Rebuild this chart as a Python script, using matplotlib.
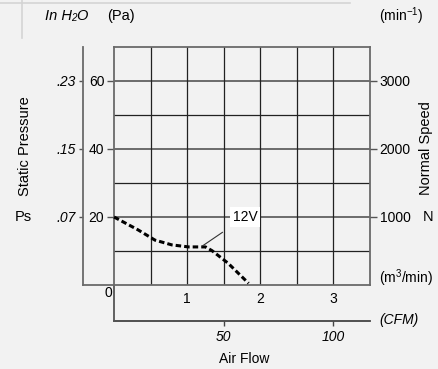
import matplotlib
matplotlib.use("Agg")
import matplotlib.pyplot as plt
from matplotlib.lines import Line2D

plt.rcParams['font.family'] = ['Liberation Sans', 'DejaVu Sans']
plt.rcParams['mathtext.fontset'] = 'custom'
plt.rcParams['mathtext.rm'] = 'Liberation Sans'
plt.rcParams['mathtext.it'] = 'Liberation Sans:italic'

# 12V curve: air flow (m3/min) vs static pressure (Pa)
flow = [0.0, 0.33, 0.56, 0.79, 1.02, 1.25, 1.34, 1.56, 1.84]
pressure = [20.0, 16.2, 13.2, 11.8, 11.2, 11.2, 10.1, 6.4, 0.5]

pa_ticks = [20, 40, 60]
inh2o_labels = ['.07', '.15', '.23']
rpm_ticks = [1000, 2000, 3000]
flow_ticks = [1, 2, 3]
cfm_ticks = [50, 100]
cfm_per_m3 = 100 / 3.0   # as drawn on the chart

W, H = 438, 369
fig = plt.figure(figsize=(W / 100, H / 100), dpi=100)
fig.patch.set_facecolor('#f2f2f2')

def fx(x):
    return x / W

def fy(y):
    return 1 - y / H

ax = fig.add_axes([fx(114), fy(285), (370 - 114) / W, (285 - 47) / H])
ax.set_facecolor('#f2f2f2')
ax.set_xlim(0, 3.5)
ax.set_ylim(0, 70)

# grid
for v in range(10, 70, 10):
    if v in pa_ticks:
        ax.axhline(v, color='#555555', lw=1.2, zorder=1)
    else:
        ax.axhline(v, color='#222222', lw=0.9, zorder=1)
for i in range(1, 7):
    ax.axvline(i * 0.5, color='#222222', lw=0.9, zorder=1)
for s in ax.spines.values():
    s.set_color('#6a6a6a')
    s.set_linewidth(1.3)

ax.set_yticks(pa_ticks)
ax.set_yticklabels([str(v) for v in pa_ticks])
ax.tick_params(axis='y', direction='out', length=5, width=1, color='#555555',
               pad=2, labelsize=10)
ax.set_xticks(flow_ticks)
ax.set_xticklabels([str(v) for v in flow_ticks])
ax.tick_params(axis='x', length=0, pad=5, labelsize=10)

# right axis: speed
ax2 = ax.twinx()
ax2.set_ylim(0, 3500)
ax2.set_yticks(rpm_ticks)
ax2.set_yticklabels([str(v) for v in rpm_ticks])
ax2.tick_params(axis='y', direction='out', length=5, width=1, color='#555555',
                pad=2, labelsize=10)
for s in ax2.spines.values():
    s.set_visible(False)

# left axis: In H2O
ax3 = ax.secondary_yaxis((83 - 114) / 256)
ax3.set_yticks(pa_ticks)
ax3.set_yticklabels(inh2o_labels, fontstyle='italic')
ax3.tick_params(direction='out', length=3, width=1, color='#555555', pad=2, labelsize=10)
ax3.spines['left'].set_color('#6a6a6a')
ax3.spines['left'].set_linewidth(1.3)
ax.add_line(Line2D([(83 - 114) / 256, 0], [0, 0], transform=ax.transAxes,
                   color='#6a6a6a', lw=1.3, clip_on=False))

# bottom axis: CFM
ax4 = ax.secondary_xaxis(-(321 - 285) / 238,
                         functions=(lambda m: m * cfm_per_m3, lambda c: c / cfm_per_m3))
ax4.set_xticks(cfm_ticks)
ax4.set_xticklabels([str(v) for v in cfm_ticks], fontstyle='italic')
ax4.tick_params(direction='out', length=3.5, width=1, color='#444444', pad=3, labelsize=10)
ax4.spines['bottom'].set_color('#444444')
ax4.spines['bottom'].set_linewidth(1.3)
ax.add_line(Line2D([0, 0], [0, -(321 - 285) / 238], transform=ax.transAxes,
                   color='#555555', lw=1.3, clip_on=False))

# curve
ax.plot(flow, pressure, color='black', lw=2.2, linestyle=(0, (1.8, 1.0)), zorder=3,
        clip_on=False)
ann = ax.annotate('12V', xy=(flow[5] - 0.04, pressure[5] + 0.3), xytext=(245, H - 217),
                  textcoords='figure pixels', fontsize=10, ha='center', va='center',
                  bbox=dict(boxstyle='square,pad=0.2', fc='white', ec='none'),
                  arrowprops=dict(arrowstyle='-', color='#333333', lw=0.8,
                                  shrinkA=7, shrinkB=0), zorder=4)

# decorations
fig.add_artist(Line2D([0, fx(350)], [fy(3), fy(3)], color='#d4d4d4', lw=1.2))
fig.add_artist(Line2D([fx(22), fx(22)], [1, fy(38)], color='#d4d4d4', lw=1.2))

fig.text(fx(45), fy(16), 'In H', fontsize=10.5, style='italic', va='center')
fig.text(fx(71.5), fy(18), '2', fontsize=7, style='italic', va='center')
fig.text(fx(76), fy(16), 'O', fontsize=10.5, style='italic', va='center')
fig.text(fx(107), fy(16), '(Pa)', fontsize=10.5, va='center')
fig.text(fx(379), fy(16), '(min$^{\\mathregular{-1}}$)', fontsize=10, va='center')

fig.text(fx(25), fy(146), 'Static Pressure', fontsize=10.5, rotation=90,
         ha='center', va='center')
fig.text(fx(23), fy(217), 'Ps', fontsize=10.5, ha='center', va='center')
fig.text(fx(426), fy(148), 'Normal Speed', fontsize=10.5, rotation=90,
         ha='center', va='center')
fig.text(fx(428), fy(217), 'N', fontsize=10.5, ha='center', va='center')

fig.text(fx(108), fy(293), '0', fontsize=10, ha='center', va='center')
fig.text(fx(379), fy(278), '(m$^{\\mathregular{3}}$/min)', fontsize=10, va='center')
fig.text(fx(379), fy(320), '(CFM)', fontsize=10, style='italic', va='center')
fig.text(fx(244), fy(359), 'Air Flow', fontsize=10, ha='center', va='center')

fig.savefig('out.png', dpi=100, facecolor=fig.get_facecolor())
